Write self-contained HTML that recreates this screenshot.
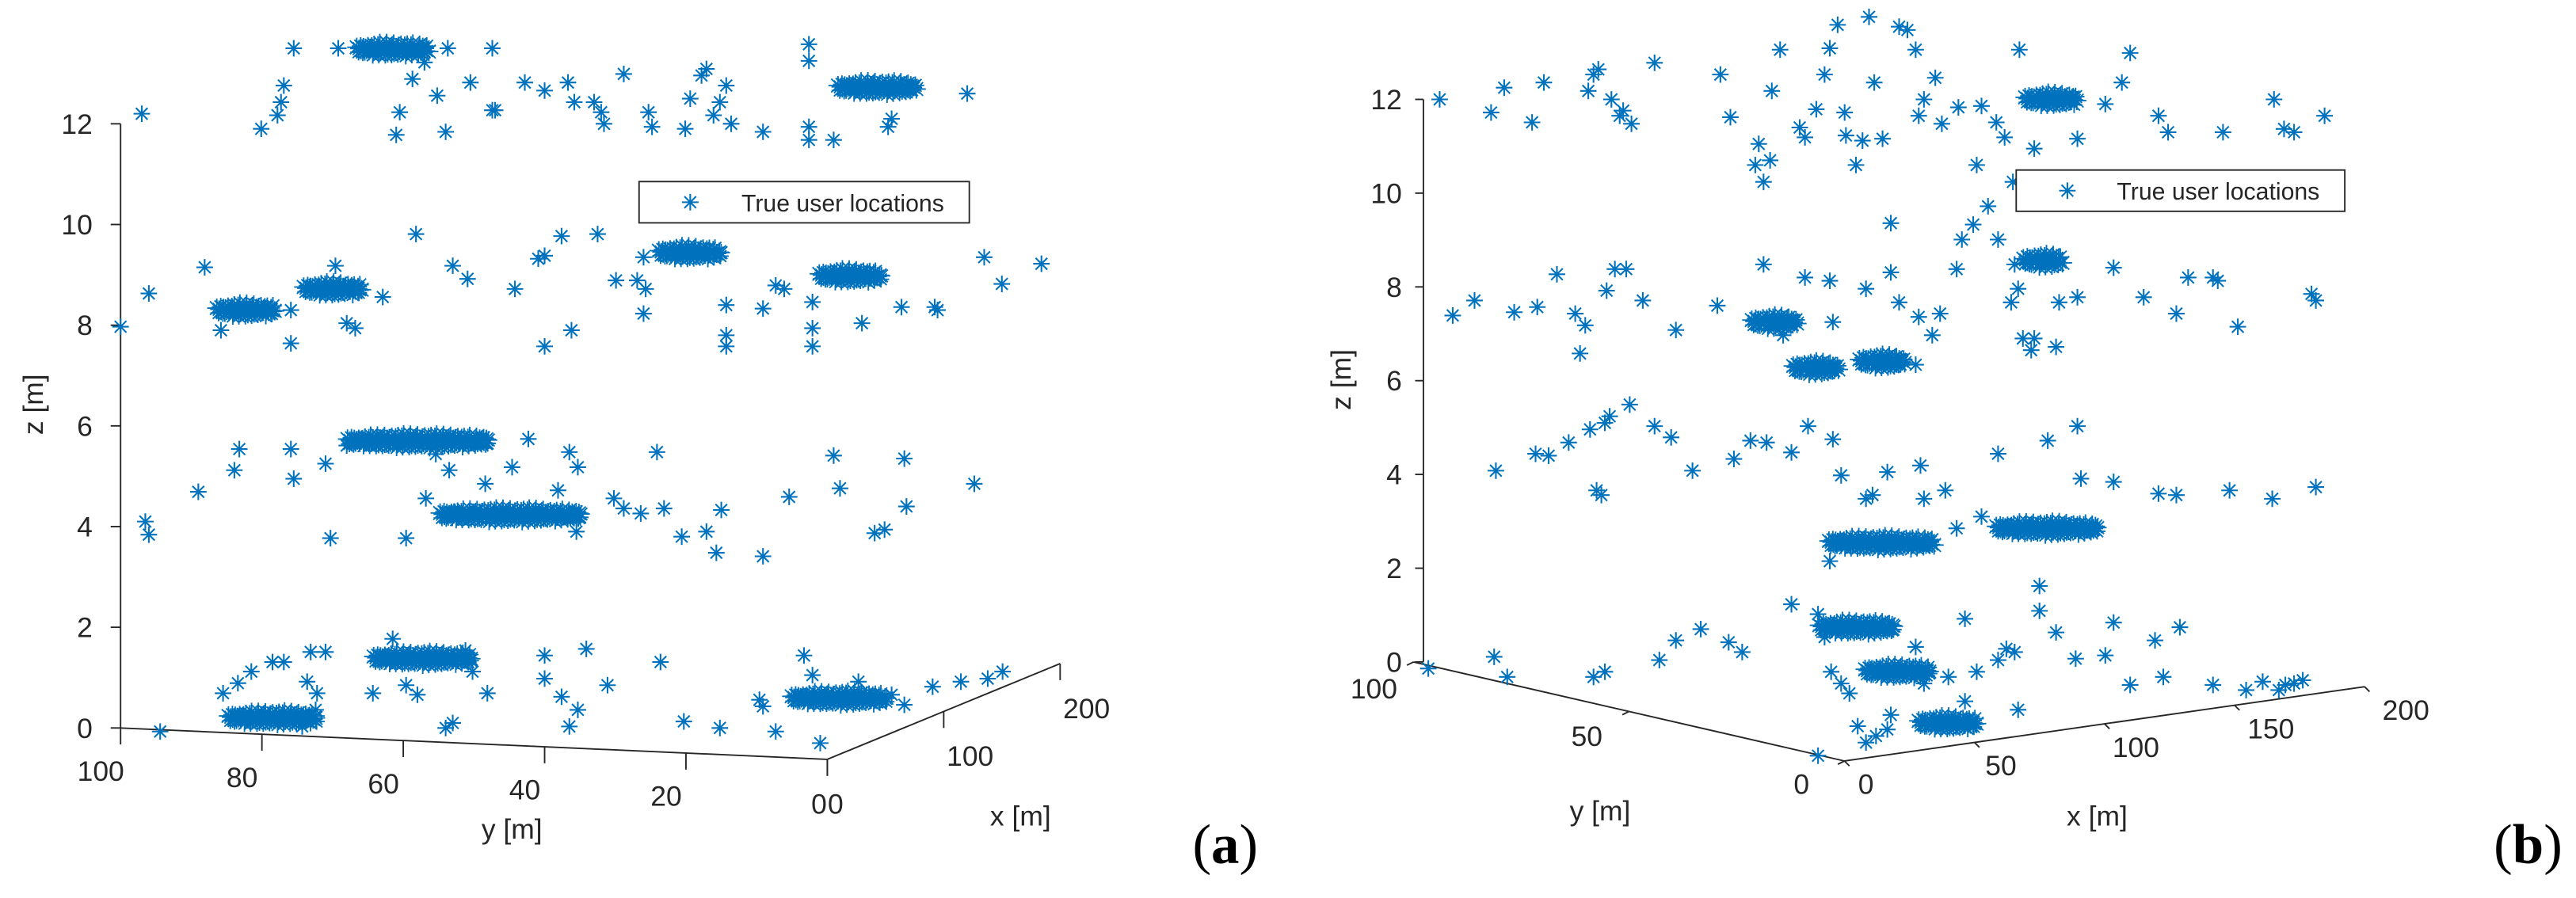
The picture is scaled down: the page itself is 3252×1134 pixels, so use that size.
<!DOCTYPE html>
<html><head><meta charset="utf-8"><style>
html,body{margin:0;padding:0;background:#fff;}
svg{display:block;}
text{font-family:"Liberation Sans",Arial,sans-serif;fill:#262626;}
</style></head><body>
<svg id="fig" xmlns="http://www.w3.org/2000/svg" width="3252" height="1134" viewBox="0 0 1560 544">
<rect x="0" y="0" width="1560" height="544" fill="#fff"/>
<g id="panelA"></g>
<g id="panelB"></g>
</svg>
<script>
// ---------- Panel (a) data: y [m] (horizontal), z [m] ----------
const aTopY=[97,75.5,69.2,53.7,47.4,80.1,77.8,76.9,77.3,60.5,61,54,47.4,50.5,40,35.8,36.7,32,31.6,33,28.8,25.3,24.8,20.1,19.4,16.1,15.2,14.3,17.8,17.1,13.6,9.1,2.6,2.6,2.6,2.6,-0.9,-8.6,-9.1,-19.8,58.7,57,55.2,42.8,47];
const aTopZ=[12.2,13.5,13.5,13.5,13.5,11.9,12.17,12.76,12.43,12.23,11.78,11.84,12.27,12.82,12.66,12.43,12.82,12.23,12,12.43,12.99,12.23,11.94,11.9,12.5,12.17,12.43,12.76,12.96,13.09,12,11.84,13.58,13.25,11.94,11.68,11.68,11.94,12.1,12.6,12.89,13.22,12.56,12.82,12.27];
const aMidY=[100,96,88.1,85.8,75.9,75.9,69.6,68,66.8,62.9,58.2,53,50.9,44.2,40.9,40,37.6,36.2,40,29.9,26.9,25.7,26,14.3,14.3,14.3,9.1,7.3,6.1,2.1,2.1,2.1,-4.9,-10.5,-15.2,-15.6,-22.2,-24.7,-30.3,26,32.5];
const aMidZ=[7.97,8.63,9.15,7.9,8.3,7.64,9.18,8.04,7.94,8.56,9.81,9.18,8.92,8.72,9.32,9.38,9.77,7.9,7.58,8.89,8.89,8.72,8.23,8.4,7.8,7.58,8.33,8.79,8.72,8.46,7.94,7.58,8.04,8.36,8.36,8.3,9.35,8.82,9.22,9.35,9.81];
const aLowY=[96.5,96,89,83.9,83.2,75.9,75.5,71,70.3,68,64.3,59.6,56.8,55.4,53.5,52.8,48.4,44.6,42.3,36.5,35.3,38.1,35.5,30.2,28.8,24.1,26.4,23.1,20.6,17.1,15.7,9.1,15,5.4,-0.9,-1.8,-6.7,-8.1,-10.9,-11.2,-20.8];
const aLowZ=[4.1,3.84,4.69,5.12,5.54,5.54,4.95,5.25,3.77,5.61,5.77,3.77,4.56,5.44,5.12,4.3,4.85,5.18,5.74,5.48,5.18,4.72,3.9,4.56,4.36,5.48,4.26,4.36,3.8,3.9,3.48,3.41,4.33,4.59,5.41,4.76,3.87,3.94,5.35,4.4,4.85];
const aGndY=[94.4,85.5,83.4,81.5,78.5,76.9,73.1,71,73.6,72.2,74.3,72.4,64.3,61.5,59.6,58,54,53,51.2,50.2,48.1,40,40,37.6,34.1,31.1,35.3,36.5,23.6,20.3,15.2,9.6,3.3,2.1,9.1,7.3,1,-4.4,-9.1,-10.9,-14.9,-18.9,-22.7,-24.8];
const aGndZ=[-0.07,0.69,0.89,1.12,1.31,1.31,1.51,1.51,0.92,0.69,0.03,0.36,0.69,1.77,0.85,0.66,0,0.1,1.54,1.12,0.69,1.44,0.98,0.62,1.57,0.85,0.36,0.03,1.31,0.13,0,0.56,1.44,1.05,0.43,-0.07,-0.3,0.92,0.66,0.46,0.82,0.92,0.98,1.12];
const aClusterY=[61.4,-7.2,82.2,69.9,19.4,-3.3,57.7,44.6,57,78.3,-1.9];
const aClusterZ=[13.48,12.72,8.3,8.72,9.44,8.98,5.7,4.23,1.38,0.2,0.59];
const aClusterSpan=[10,11,8,8,8.5,8.5,20,20,14,12.5,13.5];
const aZTicks=[0,2,4,6,8,10,12];
const aYTicks=[100,80,60,40,20,0];
const aXTicks=[0,100,200];

// ---------- Panel (b) data ----------
const bTopY=[94,82.2,79.2,72.8,70.1,59.9,58.7,57.6,54.6,52.7,51.9,50,44.7,29.6,27.3,20.8,21.6,19.7,18.2,17.8,15.9,11.4,10.2,7.6,5.7,4.5,2.7,1.1,0.8,-1.5,-3,-4.5,-5.7,-11.4,-13.3,-15.2,-15.9,-17.1,-19.7,-21.2,-25,-29.2,-33.7,-35.6,-37.5,-39,-58.7,-62.5,-64.4,-70.9,-73.1,-85.7,-97.4,-99.7,-102,-109,-7.6,-9.5,-30.3,-52.3,-42.4];
const bTopZ=[12,11.72,12.25,11.51,12.36,12.18,12.53,12.64,12,11.65,11.76,11.48,12.78,12.53,11.62,11.05,10.6,10.24,10.7,12.18,13.06,11.4,11.19,11.79,12.53,13.09,13.59,11.72,11.23,10.6,11.12,13.76,12.36,13.55,13.48,13.06,11.65,12,12.46,11.48,11.83,10.6,11.51,11.19,10.24,13.06,11.9,12.36,12.99,11.65,11.3,11.3,12,11.37,11.3,11.65,11.16,9.36,11.86,11.16,10.95];
const bMidY=[91,86,76.9,71.6,67.1,62.9,61.8,60.6,55.7,53.8,51.2,47.4,39.8,30.3,19.7,15.2,10.2,4.5,3.8,-3.8,-9.5,-11.4,-15.9,-19,-20.8,-24.6,-25.8,-28.4,-31.8,-34.1,-37.9,-37.1,-39.8,-41.7,-42.4,-48.1,-52.3,-60.6,-67.5,-75,-77.7,-83.4,-84.5,-89.1,-106,-107,-15.2,-38.7,-47.4];
const bMidZ=[7.39,7.71,7.46,7.57,8.27,7.43,6.58,7.18,7.92,8.38,8.38,7.71,7.08,7.6,8.48,6.97,8.2,8.13,7.25,7.96,8.31,7.67,7.36,6.97,7.43,8.38,9.01,9.33,9.72,9.01,8.48,7.67,6.9,6.65,6.9,7.67,7.78,8.41,7.78,7.43,8.2,8.2,8.13,7.15,7.85,7.71,6.34,7.96,6.72];
const bLowY=[81.1,72,69,64.4,59.5,56.1,55,58,56.9,50.4,44.7,40.9,36,22.7,19,13.3,9.5,3.8,1.9,-5.3,-8.7,-3.8,-16.3,-22,-24.6,-30.3,-34.1,-45.5,-52.3,-53.1,-60.6,-70.9,-75,-87.2,-97,-107,26.5,-17.1,4.5];
const bLowZ=[4.08,4.44,4.4,4.68,4.96,5.1,5.24,3.66,3.56,5.49,5.03,4.79,4.08,4.72,4.68,4.47,5.03,4.75,3.98,3.56,4.05,3.48,4.19,3.66,2.85,3.1,4.44,4.72,5.03,3.91,3.84,3.59,3.56,3.66,3.48,3.73,4.33,3.48,2.15];
const bGndY=[96.6,81.5,78.5,58.7,56.1,43.6,39.8,34.1,27.7,24.6,13.3,7.2,5.7,4.2,0,-1.9,-3.8,-6.1,-8.7,-9.5,-17.1,-22.7,-26.5,-29.2,-34.1,-37.9,-38.7,-43.6,-47.4,-51.9,-58.7,-60.6,-64.4,-70.1,-72,-75.8,-83.4,-91,-94.8,-98.5,-100,-102,-104,7.2,1.9,-15.2,-26.5,-36,-43.6];
const bGndZ=[-0.14,0.11,-0.32,-0.32,-0.21,0.04,0.46,0.7,0.42,0.21,1.23,1.02,0.53,-0.21,-0.67,-1.37,-1.72,-1.58,-1.44,-1.13,-0.46,-0.32,-0.84,-0.21,0.04,0.21,-1.02,1.09,0.63,0.07,0.14,0.84,-0.49,0.46,-0.32,0.74,-0.49,-0.6,-0.42,-0.6,-0.49,-0.46,-0.39,-2,-0.46,0.32,0.92,0.28,1.62];
const bClusterY=[-46.6,-44.7,17.1,7.6,-7.6,-7.6,-45.5,-1.9,-11.4,-22.7];
const bClusterZ=[12,8.56,7.25,6.27,6.41,2.54,2.85,0.74,-0.2,-1.3];
const bClusterSpan=[12,9,10,10,10,24,23,17,15,13];
const bZTicks=[0,2,4,6,8,10,12];
const bYTicks=[100,50,0];
const bXTicks=[0,50,100,150,200];

const NS='http://www.w3.org/2000/svg';
const BLUE='#0072BD';
function mk(tag,attrs,parent){const e=document.createElementNS(NS,tag);for(const k in attrs)e.setAttribute(k,attrs[k]);parent.appendChild(e);return e;}
function starPath(cx,cy,r){const d=r*0.707;return `M${cx-r} ${cy}h${2*r}M${cx} ${cy-r}v${2*r}M${cx-d} ${cy-d}l${2*d} ${2*d}M${cx-d} ${cy+d}l${2*d} ${-2*d}`;}

const sxA=y=>73+4.28*(100-y);
const syA=z=>441-30.5*z;
const sxB=y=>1120-2.64*y;
const syB=z=>401-28.4*z;

function drawScatter(parent,ys,zs,fx,fy,name){
  const g=mk('g',{},parent);
  
  
  for(let i=0;i<ys.length;i++){
    const p=mk('path',{d:starPath(fx(ys[i]),fy(zs[i]),5),stroke:BLUE,'stroke-width':1,fill:'none'},g);
    
    
  }
}
const jitter=[0,0.6,-0.8,0.3,-0.4,0.9,-0.2,0.5,-0.7,0.1];
function drawClusters(parent,ys,zs,spans,fx,fy,pxPerUnit,name){
  const g=mk('g',{},parent);
  
  
  for(let i=0;i<ys.length;i++){
    const cx=fx(ys[i]),cy=fy(zs[i]);const w=spans[i]*pxPerUnit;
    const cg=mk('g',{},g);
    
    
    let d='';let k=0;
    for(let dx=-w/2;dx<=w/2;dx+=2){
      const t=1-Math.pow(2*dx/w,2);const h=Math.sqrt(Math.max(t,0.2))*3;
      for(const f of [-1,0,1]){k++;const j=jitter[k%jitter.length];
        d+=starPath(cx+dx+j,cy+f*h+j*1.5,5+(k%3)*0.4);}
    }
    mk('path',{d:d,stroke:BLUE,'stroke-width':0.9,fill:'none'},cg);
  }
}
function txt(parent,x,y,s,size,anchor,name,extra){
  const t=mk('text',Object.assign({x:x,y:y,'font-size':size,'text-anchor':anchor||'middle'},extra||{}),parent);
  t.textContent=s;
  
  
  return t;
}
function line(parent,x1,y1,x2,y2,name){
  const l=mk('line',{x1,y1,x2,y2,stroke:'#262626','stroke-width':0.9},parent);
  
  
  return l;
}

// ---------- Panel A ----------
const A=document.getElementById('panelA');
line(A,73,syA(0),73,syA(12),'z-axis-line');
aZTicks.forEach(z=>{line(A,67,syA(z),73,syA(z),'z-tick');txt(A,56,syA(z)+6,String(z),17,'end','z-tick-label');});
line(A,sxA(100),441,sxA(0),460,'y-axis-line');
aYTicks.forEach(y=>{const by=441+(100-y)*0.19;line(A,sxA(y),by,sxA(y),by+10,'y-tick');
  if(y!==0)txt(A,sxA(y)-12,by+32,String(y),17,'middle','y-tick-label');});
txt(A,sxA(0)-5,493,'0',17,'middle','y-tick-label');
const axA=x=>[501+0.705*x,460-0.29*x];
line(A,axA(0)[0],axA(0)[1],axA(200)[0],axA(200)[1],'x-axis-line');
aXTicks.forEach(x=>{const p=axA(x);line(A,p[0],p[1],p[0],p[1]+10,'x-tick');
  if(x===0)txt(A,p[0]+5,493,'0',17,'middle','x-tick-label');else txt(A,p[0]+16,p[1]+33,String(x),17,'middle','x-tick-label');});
txt(A,310,508,'y [m]',17,'middle','y-axis-title');
txt(A,618,500,'x [m]',17,'middle','x-axis-title');
txt(A,0,0,'z [m]',17,'middle','z-axis-title',{transform:'translate(26,245) rotate(-90)'});
drawClusters(A,aClusterY,aClusterZ,aClusterSpan,sxA,syA,4.28,'cluster-series-a');
drawScatter(A,aTopY,aTopZ,sxA,syA,'floor-4-points-a');
drawScatter(A,aMidY,aMidZ,sxA,syA,'floor-3-points-a');
drawScatter(A,aLowY,aLowZ,sxA,syA,'floor-2-points-a');
drawScatter(A,aGndY,aGndZ,sxA,syA,'floor-1-points-a');
const LA=mk('g',{},A);
mk('rect',{x:387,y:110,width:200,height:25,fill:'#fff',stroke:'#262626','stroke-width':0.9},LA);
mk('path',{d:starPath(418,122.5,5),stroke:BLUE,'stroke-width':1,fill:'none'},LA);
txt(LA,449,128,'True user locations',14.5,'start','legend-entry');
const la=mk('text',{x:742,y:523,'font-size':34,'text-anchor':'middle',style:'font-family:"Liberation Serif",serif;fill:#000'},A);
la.innerHTML='(<tspan font-weight="bold">a</tspan>)';


// ---------- Panel B ----------
const B=document.getElementById('panelB');
line(B,862,syB(0),862,syB(12),'z-axis-line');
bZTicks.forEach(z=>{line(B,857,syB(z),862,syB(z),'z-tick');txt(B,849,syB(z)+6,String(z),17,'end','z-tick-label');});
const ayB=y=>[1117-2.61*y,461-0.6*y];
line(B,ayB(100)[0],ayB(100)[1],ayB(0)[0],ayB(0)[1],'y-axis-line');
bYTicks.forEach(y=>{const p=ayB(y);line(B,p[0],p[1],p[0]-4,p[1]+2,'y-tick');});
txt(B,832,423,'100',17,'middle','y-tick-label');
txt(B,961,452,'50',17,'middle','y-tick-label');
txt(B,1091,481,'0',17,'middle','y-tick-label');
const axB=x=>[1117+1.575*x,461-0.225*x];
line(B,axB(0)[0],axB(0)[1],axB(200)[0],axB(200)[1],'x-axis-line');
bXTicks.forEach(x=>{const p=axB(x);line(B,p[0],p[1],p[0]+3,p[1]+3,'x-tick');
  txt(B,1130+1.635*x,481-0.225*x,String(x),17,'middle','x-tick-label');});
txt(B,969,497,'y [m]',17,'middle','y-axis-title');
txt(B,1270,500,'x [m]',17,'middle','x-axis-title');
txt(B,0,0,'z [m]',17,'middle','z-axis-title',{transform:'translate(818,230) rotate(-90)'});
drawClusters(B,bClusterY,bClusterZ,bClusterSpan,sxB,syB,2.64,'cluster-series-b');
drawScatter(B,bTopY,bTopZ,sxB,syB,'floor-4-points-b');
drawScatter(B,bMidY,bMidZ,sxB,syB,'floor-3-points-b');
drawScatter(B,bLowY,bLowZ,sxB,syB,'floor-2-points-b');
drawScatter(B,bGndY,bGndZ,sxB,syB,'floor-1-points-b');
const LB=mk('g',{},B);
mk('rect',{x:1221,y:103,width:199,height:25,fill:'#fff',stroke:'#262626','stroke-width':0.9},LB);
mk('path',{d:starPath(1252,115.5,5),stroke:BLUE,'stroke-width':1,fill:'none'},LB);
txt(LB,1282,121,'True user locations',14.5,'start','legend-entry');
const lb=mk('text',{x:1531,y:523,'font-size':34,'text-anchor':'middle',style:'font-family:"Liberation Serif",serif;fill:#000'},B);
lb.innerHTML='(<tspan font-weight="bold">b</tspan>)';

</script>
</body></html>
